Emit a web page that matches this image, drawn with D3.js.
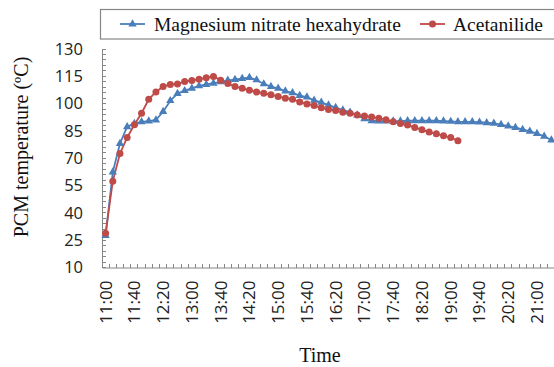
<!DOCTYPE html>
<html><head><meta charset="utf-8">
<script src="https://cdn.jsdelivr.net/npm/d3@7"></script>
<style>body{margin:0;background:#fff}svg{display:block}</style>
</head><body>
<script>
// ---- data ----
const categories = ["11:00","11:10","11:20","11:30","11:40","11:50","12:00","12:10","12:20","12:30","12:40","12:50",
"13:00","13:10","13:20","13:30","13:40","13:50","14:00","14:10","14:20","14:30","14:40","14:50",
"15:00","15:10","15:20","15:30","15:40","15:50","16:00","16:10","16:20","16:30","16:40","16:50",
"17:00","17:10","17:20","17:30","17:40","17:50","18:00","18:10","18:20","18:30","18:40","18:50",
"19:00","19:10","19:20","19:30","19:40","19:50","20:00","20:10","20:20","20:30","20:40","20:50",
"21:00","21:10","21:20","21:30"];
const magnesiumNitrate = [27.5,62.4,78.1,87.3,89.0,90.0,90.4,91.0,95.6,101.6,105.5,107.1,
108.4,109.7,110.5,111.2,111.9,112.8,113.2,113.8,114.3,113.0,110.8,109.4,
108.4,106.9,105.9,104.4,103.6,101.8,100.7,99.2,97.8,96.5,95.3,93.7,
91.6,90.6,90.4,90.4,90.4,90.4,90.6,90.6,90.6,90.6,90.6,90.4,
90.2,90.0,90.0,90.0,89.8,89.5,89.2,88.5,87.7,86.8,85.8,84.8,
83.6,82.0,80.0,78.0];
const acetanilide = [28.8,57.3,72.6,81.4,88.4,94.7,102.4,106.4,109.4,110.5,110.8,112.1,
112.7,113.4,114.2,114.9,112.9,111.0,109.4,108.4,107.3,106.4,105.7,104.9,
103.9,103.0,102.4,100.9,99.8,99.0,97.7,96.8,96.2,95.3,94.7,93.7,
93.2,92.6,92.0,91.2,90.0,89.1,88.2,86.9,85.6,84.4,83.4,82.3,
81.4,79.6];
const yTicks = [10,25,40,55,70,85,100,115,130];
const seriesNames = ["Magnesium nitrate hexahydrate","Acetanilide"];

const W = 554, H = 367;
const blue = "#4a7ebb", red = "#be4b48", axisCol = "#868686";
const svg = d3.select("body").append("svg").attr("width", W).attr("height", H);

const band = 7.19;
const x = d3.scaleBand().domain(categories).range([102, 102 + band*categories.length]).padding(0);
const y = d3.scaleLinear().domain([10,130]).range([267.5, 49]);
const cx = c => x(c) + x.bandwidth()/2;

// y axis minor ticks (inside)
const minor = d3.range(10, 130.001, 3);
svg.append("g").selectAll("line").data(minor).join("line")
  .attr("x1", 102).attr("x2", 106).attr("y1", d => y(d)).attr("y2", d => y(d))
  .attr("stroke", axisCol).attr("stroke-width", 1).attr("shape-rendering","crispEdges");
// x ticks at category boundaries (inside)
svg.append("g").selectAll("line").data(categories).join("line")
  .attr("x1", d => x(d)).attr("x2", d => x(d)).attr("y1", 267.5).attr("y2", 263.5)
  .attr("stroke", axisCol).attr("stroke-width", 1).attr("shape-rendering","crispEdges");

// y axis
const yAxis = svg.append("g").attr("transform","translate(102,0)")
  .call(d3.axisLeft(y).tickValues(yTicks).tickSize(0).tickPadding(19));
yAxis.select(".domain").attr("stroke", axisCol);
yAxis.selectAll("text").attr("font-family","'Open Sans'").attr("font-size","16.5px").attr("fill","#222");

// x axis
const xAxis = svg.append("g").attr("transform","translate(0,267.5)")
  .call(d3.axisBottom(x).tickValues(categories.filter((d,i)=>i%4===0)).tickSize(0));
xAxis.select(".domain").attr("stroke", axisCol);
xAxis.selectAll("text")
  .attr("font-family","'Open Sans'").attr("font-size","17px").attr("fill","#222")
  .attr("transform","rotate(-90)").attr("text-anchor","end")
  .attr("x", -13).attr("y", 0).attr("dy","0.35em");

// lines
const line = d3.line().x((d,i)=>cx(categories[i])).y(d=>y(d));
svg.append("path").datum(magnesiumNitrate).attr("d", line).attr("fill","none").attr("stroke", blue).attr("stroke-width",1.8);
svg.append("path").datum(acetanilide).attr("d", line).attr("fill","none").attr("stroke", red).attr("stroke-width",1.8);
const tri = d3.symbol().type(d3.symbolTriangle).size(30);
svg.append("g").selectAll("path").data(magnesiumNitrate).join("path")
  .attr("d", tri).attr("transform",(d,i)=>`translate(${cx(categories[i])},${y(d)})`).attr("fill", blue);
svg.append("g").selectAll("circle").data(acetanilide).join("circle")
  .attr("cx",(d,i)=>cx(categories[i])).attr("cy", d=>y(d)).attr("r",3.5).attr("fill", red);

// axis titles
svg.append("text").attr("transform","translate(28,147) rotate(-90)").attr("text-anchor","middle")
  .attr("font-family","'Liberation Serif'").attr("font-size","20px").attr("fill","#111").text("PCM temperature (ºC)");
svg.append("text").attr("x",320).attr("y",362).attr("text-anchor","middle")
  .attr("font-family","'Liberation Serif'").attr("font-size","20px").attr("fill","#111").text("Time");

// legend
const lg = svg.append("g");
lg.append("rect").attr("x",100.5).attr("y",9.5).attr("width",470).attr("height",29.5)
  .attr("fill","#fff").attr("stroke",axisCol).attr("stroke-width",1.2);
const items = [{name: seriesNames[0], col: blue, x0: 120, tx: 154}, {name: seriesNames[1], col: red, x0: 420, tx: 453}];
items.forEach((it, k) => {
  lg.append("line").attr("x1", it.x0).attr("x2", it.x0+25).attr("y1",24).attr("y2",24).attr("stroke", it.col).attr("stroke-width",1.8);
  if (k===0) lg.append("path").attr("d", tri).attr("transform",`translate(${it.x0+12.5},24)`).attr("fill", it.col);
  else lg.append("circle").attr("cx", it.x0+12.5).attr("cy",24).attr("r",3.5).attr("fill", it.col);
  lg.append("text").attr("x", it.tx).attr("y", 30.7).attr("font-family","'Liberation Serif'").attr("font-size","19.5px").attr("fill","#111").text(it.name);
});
</script>
</body></html>
